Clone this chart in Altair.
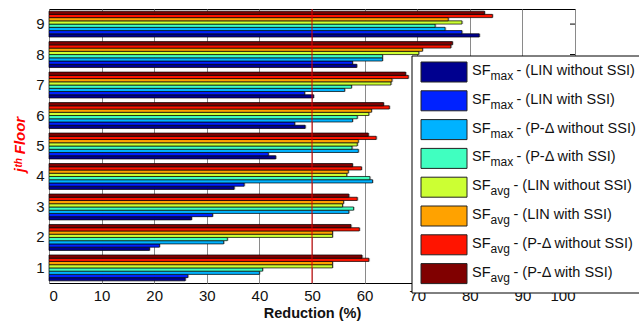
import altair as alt
import pandas as pd

# ---- data -------------------------------------------------------------
floors = [1, 2, 3, 4, 5, 6, 7, 8, 9]

series_keys = ["max_lin_wo", "max_lin_w", "max_pd_wo", "max_pd_w",
               "avg_lin_wo", "avg_lin_w", "avg_pd_wo", "avg_pd_w"]
series_sub = ["max", "max", "max", "max", "avg", "avg", "avg", "avg"]
series_desc = ["- (LIN without SSI)", "- (LIN with SSI)",
               "- (P-Δ without SSI)", "- (P-Δ with SSI)"] * 2
series_colors = ["#00008f", "#0022ff", "#00b2ff", "#40ffc0",
                 "#ccff33", "#ffa200", "#ff1400", "#800000"]

# reduction (%) per floor 1..9
sf_max_lin_wo = [25.9, 19.1, 27.1, 35.2, 43.1, 48.7, 50.3, 58.5, 81.8]
sf_max_lin_w = [26.4, 21.0, 31.1, 37.1, 41.7, 46.7, 48.6, 57.7, 78.5]
sf_max_pd_wo = [40.0, 33.2, 57.0, 61.5, 58.8, 57.7, 56.2, 63.4, 75.3]
sf_max_pd_w = [40.6, 33.9, 57.9, 61.0, 57.6, 58.6, 57.5, 63.4, 73.4]
sf_avg_lin_wo = [53.9, 53.9, 55.8, 56.6, 58.6, 60.8, 65.0, 70.3, 78.5]
sf_avg_lin_w = [53.9, 53.9, 56.0, 56.9, 58.8, 61.3, 65.2, 71.0, 75.9]
sf_avg_pd_wo = [60.8, 59.0, 58.6, 59.4, 62.2, 64.7, 68.3, 76.4, 84.3]
sf_avg_pd_w = [59.5, 57.4, 57.0, 57.7, 60.7, 63.6, 67.8, 76.7, 82.8]

series_values = [sf_max_lin_wo, sf_max_lin_w, sf_max_pd_wo, sf_max_pd_w,
                 sf_avg_lin_wo, sf_avg_lin_w, sf_avg_pd_wo, sf_avg_pd_w]

x_ticks = list(range(0, 101, 10))

# ---- layout -----------------------------------------------------------
W, H = 526, 274
PAD = {"left": 49, "top": 9, "right": 64, "bottom": 45}
FONT = "Liberation Sans"
LEG_FS = 14.5

rows = []
for key, vals in zip(series_keys, series_values):
    for f, v in zip(floors, vals):
        rows.append({"floor": str(f), "series": key, "value": v})
df = pd.DataFrame(rows)

floor_domain = [str(f) for f in reversed(floors)]
y_enc = alt.Y("floor:N",
              scale=alt.Scale(domain=floor_domain, paddingInner=0.15, paddingOuter=0.07),
              axis=alt.Axis(title="jᵗʰ Floor", titleColor="#ff0000", titleFontSize=15,
                            titleFontWeight="bold", titleFontStyle="italic",
                            titleAngle=270, titleX=-30, titleY=135,
                            titleAlign="center", titleBaseline="middle",
                            labelFontSize=15, labelColor="#111111", labelPadding=5,
                            ticks=False, domain=False, grid=False))
yoff_enc = alt.YOffset("series:N",
                       scale=alt.Scale(domain=list(reversed(series_keys)),
                                       paddingInner=0, paddingOuter=0))
color_enc = alt.Color("series:N",
                      scale=alt.Scale(domain=series_keys, range=series_colors),
                      legend=None)
x_enc = alt.X("value:Q",
              scale=alt.Scale(domain=[0, 100], nice=False),
              axis=alt.Axis(values=x_ticks, grid=True, gridColor="#8a8a8a", gridWidth=1,
                            ticks=False, domain=False, labelFontSize=15,
                            labelColor="#111111", labelPadding=5,
                            title="Reduction (%)", titleFontSize=14.5,
                            titleFontWeight="bold", titleColor="#111111",
                            titlePadding=3))

base = alt.Chart(df)

shadow = base.mark_bar(color="#9a9a9a", opacity=0.6, xOffset=1.3,
                       yOffset=1.3, y2Offset=1.3).encode(
    x=alt.X("value:Q"), y=alt.Y("floor:N"), yOffset=yoff_enc)

bars = base.mark_bar(stroke="#000000", strokeWidth=0.7).encode(
    x=x_enc, y=y_enc, yOffset=yoff_enc, color=color_enc)

ref_line = alt.Chart(pd.DataFrame({"v": [50]})).mark_rule(
    color="#e00000", strokeWidth=1).encode(x="v:Q")

right_ticks = alt.Chart(pd.DataFrame({"floor": floor_domain})).mark_rule(
    color="#000000", strokeWidth=1).encode(
    y="floor:N", x=alt.value(W - 5), x2=alt.value(W))

plot = alt.layer(shadow, bars, ref_line, right_ticks)

# ---- legend box -------------------------------------------------------
row_step = 28.8
first_center = 72 - PAD["top"]
leg = pd.DataFrame({
    "key": series_keys,
    "sub": series_sub,
    "desc": series_desc,
})
leg["cy"] = [first_center + i * row_step for i in range(len(series_keys))]
leg["sy0"] = leg["cy"] - 10
leg["sy1"] = leg["cy"] + 10
leg["sx0"] = 421 - PAD["left"]
leg["sx1"] = 467 - PAD["left"]
leg["ty"] = leg["cy"] + 3
leg["tsy"] = leg["cy"] + 8
leg["tx_sf"] = 472 - PAD["left"]
leg["tx_sub"] = 490.5 - PAD["left"]
leg["tx_rest"] = [516.5 - PAD["left"] if s == "max" else 513.5 - PAD["left"]
                  for s in series_sub]

px = lambda f: alt.X(f"{f}:Q", scale=None, axis=None)
py = lambda f: alt.Y(f"{f}:Q", scale=None, axis=None)

box = alt.Chart(pd.DataFrame({"a": [0]})).mark_rect(
    fill="#ffffff", stroke="#000000", strokeWidth=1).encode(
    x=alt.value(412 - PAD["left"]), x2=alt.value(680),
    y=alt.value(56 - PAD["top"]), y2=alt.value(293 - PAD["top"]))

leg_base = alt.Chart(leg)
swatch = leg_base.mark_rect(stroke="#222222", strokeWidth=1).encode(
    x=px("sx0"), x2="sx1:Q", y=py("sy0"), y2="sy1:Q",
    color=alt.Color("key:N", scale=alt.Scale(domain=series_keys, range=series_colors),
                    legend=None))
t_sf = leg_base.mark_text(align="left", baseline="alphabetic", font=FONT,
                          fontSize=LEG_FS, color="#111111").encode(
    x=px("tx_sf"), y=py("ty"), text=alt.value("SF"))
t_sub = leg_base.mark_text(align="left", baseline="alphabetic", font=FONT,
                           fontSize=12, color="#111111").encode(
    x=px("tx_sub"), y=py("tsy"), text="sub:N")
t_rest = leg_base.mark_text(align="left", baseline="alphabetic", font=FONT,
                            fontSize=LEG_FS, color="#111111").encode(
    x=px("tx_rest"), y=py("ty"), text="desc:N")

legend = alt.layer(box, swatch, t_sf, t_sub, t_rest)

chart = alt.layer(plot, legend).resolve_scale(
    x="independent", y="independent"
).properties(
    width=W, height=H,
    autosize=alt.AutoSizeParams(type="none"),
    padding=PAD,
    background="#ffffff",
).configure(font=FONT).configure_view(stroke="#000000", strokeWidth=1)

chart.save("out.html", embed_options={"renderer": "svg", "actions": False})
